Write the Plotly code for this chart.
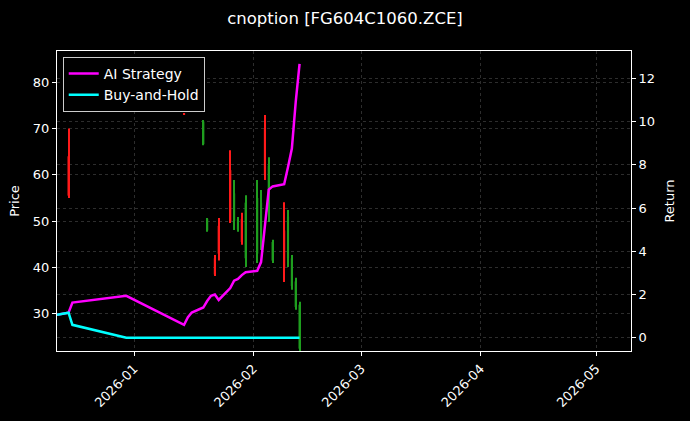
import plotly.graph_objects as go

# ---- data ----
candle_dates = ["2025-12-15", "2026-01-14", "2026-01-19", "2026-01-20", "2026-01-22", "2026-01-23",
                "2026-01-26", "2026-01-27", "2026-01-28", "2026-01-29", "2026-01-30",
                "2026-02-02", "2026-02-03", "2026-02-04", "2026-02-05", "2026-02-06",
                "2026-02-09", "2026-02-10", "2026-02-11", "2026-02-12", "2026-02-13"]
opens  = [55.5, 73.0, 71.5, 50.5, 38.5, 43.0, 50.0, 56.0, 50.5, 45.5, 54.0, 55.0, 54.0, 60.0, 62.0, 45.5, 40.0, 51.0, 42.0, 37.0, 32.0]
highs  = [70.0, 73.3, 71.8, 50.7, 42.7, 50.7, 65.3, 58.9, 50.9, 51.8, 55.6, 58.9, 56.7, 72.9, 63.8, 46.0, 54.1, 52.4, 42.7, 37.8, 32.6]
lows   = [55.0, 72.9, 66.4, 47.7, 38.2, 41.5, 49.6, 48.1, 47.7, 44.9, 40.1, 41.0, 43.8, 58.9, 49.8, 41.0, 36.9, 40.1, 35.2, 30.9, 22.0]
closes = [64.0, 73.2, 66.6, 48.0, 42.0, 49.0, 61.0, 50.0, 48.2, 50.5, 42.0, 43.0, 45.0, 70.0, 52.0, 41.5, 48.0, 42.0, 36.0, 31.5, 22.5]

line_dates = ["2025-12-12", "2025-12-15", "2025-12-16", "2025-12-30",
              "2026-01-14", "2026-01-15", "2026-01-16",
              "2026-01-19", "2026-01-20", "2026-01-21", "2026-01-22", "2026-01-23",
              "2026-01-26", "2026-01-27", "2026-01-28", "2026-01-29", "2026-01-30",
              "2026-02-02", "2026-02-03", "2026-02-04", "2026-02-05", "2026-02-06",
              "2026-02-09", "2026-02-10", "2026-02-11", "2026-02-12", "2026-02-13"]
ai_strategy = [1.06, 1.16, 1.63, 1.94, 0.60, 0.95, 1.17, 1.40, 1.70, 1.94, 2.00, 1.75,
               2.30, 2.64, 2.72, 2.90, 3.03, 3.10, 3.50, 5.20, 6.85, 7.00,
               7.10, 7.90, 8.75, 10.90, 12.67]
buy_hold = [1.06, 1.16, 0.60, 0.0, 0.0, 0.0, 0.0, 0.0, 0.0, 0.0, 0.0, 0.0,
            0.0, 0.0, 0.0, 0.0, 0.0, 0.0, 0.0, 0.0, 0.0, 0.0,
            0.0, 0.0, 0.0, 0.0, 0.0]

x_ticks = ["2026-01-01", "2026-02-01", "2026-03-01", "2026-04-01", "2026-05-01"]
x_tick_labels = ["2026-01", "2026-02", "2026-03", "2026-04", "2026-05"]

FONT = "DejaVu Sans"
GRID = "rgba(128,128,128,0.35)"
UP = "#ff1a1a"
DOWN = "#1f9e1f"
DAY_MS = 86400000

colors = [UP if c >= o else DOWN for o, c in zip(opens, closes)]
wick_len = [h - l for h, l in zip(highs, lows)]
body_base = [min(o, c) for o, c in zip(opens, closes)]
body_len = [max(abs(c - o), 0.15) for o, c in zip(opens, closes)]

fig = go.Figure()
# wicks
fig.add_trace(go.Bar(x=candle_dates, y=wick_len, base=lows, width=0.28 * DAY_MS,
                     marker=dict(color=colors, line=dict(width=0)),
                     showlegend=False, yaxis="y", hoverinfo="skip"))
# bodies
fig.add_trace(go.Bar(x=candle_dates, y=body_len, base=body_base, width=0.55 * DAY_MS,
                     marker=dict(color=colors, line=dict(width=0)),
                     showlegend=False, yaxis="y", hoverinfo="skip"))
fig.add_trace(go.Scatter(x=line_dates, y=ai_strategy, mode="lines", name="AI Strategy",
                         line=dict(color="#ff00ff", width=2.5), yaxis="y2"))
fig.add_trace(go.Scatter(x=line_dates, y=buy_hold, mode="lines", name="Buy-and-Hold",
                         line=dict(color="#00ffff", width=2.5), yaxis="y2"))

fig.update_layout(
    width=690, height=421,
    barmode="overlay",
    paper_bgcolor="black", plot_bgcolor="black",
    font=dict(family=FONT, color="white", size=13),
    margin=dict(l=57, r=59, t=51, b=70),
    title=dict(text="cnoption [FG604C1060.ZCE]", x=0.5, xanchor="center",
               y=1 - 18 / 421, yanchor="middle", font=dict(size=16.5, color="white")),
    xaxis=dict(type="date", range=["2025-12-12", "2026-05-10 02:00"],
               tickvals=x_ticks, ticktext=x_tick_labels, tickangle=-45,
               showgrid=True, gridcolor=GRID, griddash="3px,3px", gridwidth=0.6,
               showline=True, linecolor="white", linewidth=1, mirror=True,
               ticks="outside", ticklen=4, tickcolor="white", zeroline=False),
    yaxis=dict(range=[22.0, 86.7], title=dict(text="Price", standoff=10, font=dict(size=13)),
               tickvals=[30, 40, 50, 60, 70, 80],
               showgrid=True, gridcolor=GRID, griddash="3px,3px", gridwidth=0.6,
               showline=True, linecolor="white", linewidth=1,
               ticks="outside", ticklen=4, tickcolor="white", zeroline=False),
    yaxis2=dict(range=[-0.61, 13.26], overlaying="y", side="right",
                title=dict(text="Return", standoff=10, font=dict(size=13)),
                tickvals=[0, 2, 4, 6, 8, 10, 12],
                showgrid=True, gridcolor=GRID, griddash="3px,3px", gridwidth=0.6,
                showline=True, linecolor="white", linewidth=1,
                ticks="outside", ticklen=4, tickcolor="white", zeroline=False),
    legend=dict(x=0.01, y=0.98, xanchor="left", yanchor="top",
                bgcolor="black", bordercolor="#cccccc", borderwidth=1,
                font=dict(size=14, color="white")),
    showlegend=True,
)

fig.write_html("out.html", config={"displayModeBar": False})

# remove the default page margin so the figure sits at the window's top-left corner
with open("out.html", "r", encoding="utf-8") as f:
    html = f.read()
html = html.replace("<head>", "<head><style>html,body{margin:0;padding:0;background:black;}</style>", 1)
with open("out.html", "w", encoding="utf-8") as f:
    f.write(html)
